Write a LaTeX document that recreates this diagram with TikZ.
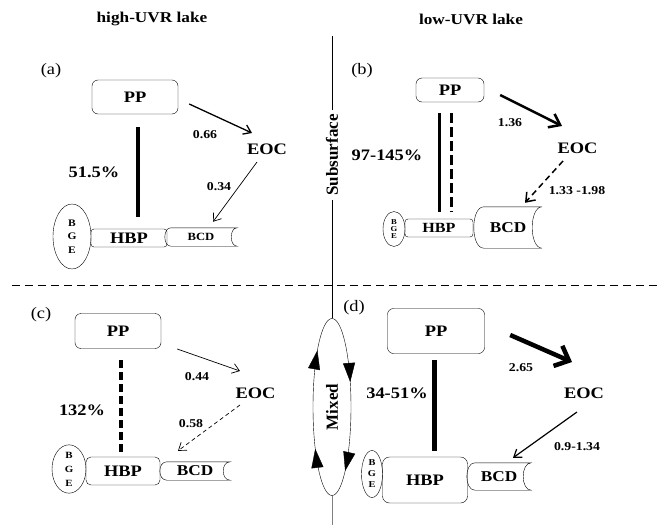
\documentclass[tikz,border=0pt]{standalone}
\usepackage{fontspec}
\setmainfont{Liberation Serif}[FakeStretch=1.15]
\newfontfamily\plainserif{Liberation Serif}
\usepackage{tikz}
\usetikzlibrary{shapes.geometric, arrows.meta, decorations.markings}

\tikzstyle{ppbox} = [rectangle, rounded corners=6pt, draw, inner sep=0pt,
  font=\fontsize{16}{19}\selectfont\bfseries]
\tikzstyle{hbpbox} = [rectangle, rounded corners=4pt, draw, inner sep=0pt]
\tikzstyle{bgeoval} = [ellipse, draw, inner sep=0pt, align=center]
\tikzstyle{bcdtube} = [rectangle, inner sep=0pt]
\tikzstyle{eoclabel} = [inner sep=2pt, font=\fontsize{16}{19}\selectfont\bfseries]
\tikzstyle{ratelabel} = [inner sep=1pt, font=\fontsize{12}{14}\selectfont\bfseries]
\tikzstyle{pctlabel} = [inner sep=1pt, font=\fontsize{16}{19}\selectfont\bfseries]
\tikzstyle{panellabel} = [inner sep=1pt, font=\fontsize{16}{19}\selectfont]
\tikzstyle{sidelabel} = [rotate=90, inner sep=4pt, font=\plainserif\fontsize{17}{20}\selectfont\bfseries]
\tikzstyle{flow} = [-{Straight Barb[length=7pt,width=10pt]}]
\tikzstyle{mixarrows} = [decoration={markings,
    mark=at position 0.172 with {\arrow{Triangle[length=19pt,width=12pt]}},
    mark=at position 0.388 with {\arrow{Triangle[length=19pt,width=12pt]}},
    mark=at position 0.652 with {\arrow{Triangle[length=19pt,width=12pt]}},
    mark=at position 0.933 with {\arrow{Triangle[length=19pt,width=12pt]}}},
  postaction={decorate}]

% tube outline round a BCD node: (name, bulge)
\newcommand{\bcdrim}[2]{%
  \draw (#1.north west) .. controls +({-4/3*#2},0) and +({-4/3*#2},0) .. (#1.south west)
    -- ([xshift=#2pt]#1.south east) .. controls +({-4/3*#2},0) and +({-4/3*#2},0) .. ([xshift=#2pt]#1.north east)
    -- cycle;}

\begin{document}
\begin{tikzpicture}[x=1pt, y=-1pt]
  \useasboundingbox (0,0) rectangle (657,525);

  % column titles
  \node (titleHigh) [font=\fontsize{15}{18}\selectfont\bfseries] at (152,19) {high-UVR lake};
  \node (titleLow)  [font=\fontsize{15}{18}\selectfont\bfseries] at (471,19) {low-UVR lake};

  % dividers
  \coordinate (dashL) at (12,285);
  \coordinate (dashR) at (657,285);
  \draw[dash pattern=on 8pt off 5pt] (dashL) -- (dashR);
  \coordinate (vtop) at (332,36);
  \coordinate (vbot) at (332,525);
  \node (subsurf) [sidelabel] at (332,155) {Subsurface};
  \node (mixloop) [sidelabel, ellipse, inner sep=0pt, minimum width=177pt, minimum height=38pt]
    at (332,407) {Mixed};
  \draw (vtop) -- (subsurf);
  \draw (subsurf) -- (mixloop);
  \draw[gray] (mixloop) -- (vbot);
  \draw[mixarrows] (mixloop.center) ellipse [x radius=19, y radius=88.5];

  % (a) high-UVR, subsurface
  \node (labA) [panellabel] at (51,71) {(a)};
  \node (ppA)  [ppbox, minimum width=86pt, minimum height=34pt] at (135,97) {PP};
  \node (eocA) [eoclabel] at (267,149) {EOC};
  \node (bgeA) [bgeoval, minimum width=38pt, minimum height=65pt,
    font=\fontsize{10}{13.5}\selectfont\bfseries] at (72,236.5) {B\\G\\E};
  \node (hbpA) [hbpbox, rounded corners=3pt, minimum width=76pt, minimum height=18pt,
    font=\fontsize{16}{19}\selectfont\bfseries] at (129,238) {HBP};
  \node (bcdA) [bcdtube, minimum width=60pt, minimum height=18pt,
    font=\fontsize{11}{13}\selectfont\bfseries] at (201,237) {BCD};
  \bcdrim{bcdA}{6}
  \draw[line width=4pt] ([shift={(3,13)}]ppA.south) -- ([shift={(9,-12)}]hbpA.north);
  \node (pctA) [pctlabel] at (94,172) {51.5\%};
  \draw[flow, line width=1.3pt] ([shift={(11,7)}]ppA.east) -- ([shift={(-15,-16)}]eocA.center);
  \node (rateA1) [ratelabel] at (205,135) {0.66};
  \draw[flow, line width=0.7pt] ([shift={(-10,13)}]eocA.center) -- ([shift={(12,-6)}]bcdA.north);
  \node (rateA2) [ratelabel] at (219,187) {0.34};

  % (b) low-UVR, subsurface
  \node (labB) [panellabel] at (362,71) {(b)};
  \node (ppB)  [ppbox, minimum width=68pt, minimum height=24pt] at (450,90) {PP};
  \node (eocB) [eoclabel] at (577.5,148) {EOC};
  \node (bgeB) [bgeoval, minimum width=22pt, minimum height=35pt,
    font=\fontsize{7.5}{7}\selectfont\bfseries] at (394,229) {B\\G\\E};
  \node (hbpB) [hbpbox, rounded corners=3pt, minimum width=68pt, minimum height=18pt,
    font=\fontsize{14}{17}\selectfont\bfseries] at (439,228) {HBP};
  \node (bcdB) [bcdtube, minimum width=48pt, minimum height=41pt,
    font=\fontsize{15}{18}\selectfont\bfseries] at (508,227.5) {BCD};
  \bcdrim{bcdB}{10}
  \draw[line width=3pt] ([shift={(-11,11)}]ppB.south) -- ([shift={(0,-7)}]hbpB.north);
  \draw[line width=3pt, dash pattern=on 10pt off 4pt] ([shift={(1,11)}]ppB.south) -- ([shift={(12,-7)}]hbpB.north);
  \node (pctB) [pctlabel] at (387,155) {97-145\%};
  \draw[-{Straight Barb[length=10pt,width=15pt]}, line width=2.5pt]
    ([shift={(16,5)}]ppB.east) -- ([shift={(-15.5,-22)}]eocB.center);
  \node (rateB1) [ratelabel] at (510,123) {1.36};
  \draw[-{Straight Barb[length=8pt,width=12pt]}, line width=1.5pt, dash pattern=on 6pt off 4pt]
    ([shift={(-14.5,13)}]eocB.center) -- ([shift={(17,-4)}]bcdB.north);
  \node (rateB2) [ratelabel] at (577,191) {1.33 -1.98};

  % (c) high-UVR, mixed
  \node (labC) [panellabel] at (41,315) {(c)};
  \node (ppC)  [ppbox, minimum width=86pt, minimum height=35pt] at (118,331) {PP};
  \node (eocC) [eoclabel] at (255.5,393) {EOC};
  \node (bgeC) [bgeoval, minimum width=34pt, minimum height=48pt,
    font=\fontsize{9.5}{14}\selectfont\bfseries] at (69,469) {B\\G\\E};
  \node (hbpC) [hbpbox, rounded corners=5pt, minimum width=74pt, minimum height=28pt,
    font=\fontsize{16}{19}\selectfont\bfseries] at (123,471) {HBP};
  \node (bcdC) [bcdtube, minimum width=56pt, minimum height=18pt,
    font=\fontsize{15}{18}\selectfont\bfseries] at (195,471) {BCD};
  \bcdrim{bcdC}{7}
  \draw[line width=4pt, dash pattern=on 8pt off 4pt] ([shift={(3,11.5)}]ppC.south) -- ([shift={(-2,-5)}]hbpC.north);
  \node (pctC) [pctlabel] at (82,410) {132\%};
  \draw[flow, line width=0.7pt] ([shift={(16,18)}]ppC.east) -- ([shift={(-15.5,-22)}]eocC.center);
  \node (rateC1) [ratelabel] at (197,377) {0.44};
  \draw[flow, line width=0.7pt, dash pattern=on 4pt off 3pt] ([shift={(-15.5,12)}]eocC.center) -- ([shift={(-17,-11)}]bcdC.north);
  \node (rateC2) [ratelabel] at (191,424) {0.58};

  % (d) low-UVR, mixed
  \node (labD) [panellabel] at (354,308) {(d)};
  \node (ppD)  [ppbox, minimum width=97pt, minimum height=45pt] at (436,331) {PP};
  \node (eocD) [eoclabel] at (584,393) {EOC};
  \node (bgeD) [bgeoval, minimum width=21pt, minimum height=47pt,
    font=\fontsize{9}{11}\selectfont\bfseries] at (372,474) {B\\G\\E};
  \node (hbpD) [hbpbox, rounded corners=7pt, minimum width=85pt, minimum height=46pt,
    font=\fontsize{16}{19}\selectfont\bfseries] at (425,480) {HBP};
  \node (bcdD) [bcdtube, minimum width=48pt, minimum height=27pt,
    font=\fontsize{15}{18}\selectfont\bfseries] at (499,476.5) {BCD};
  \bcdrim{bcdD}{8}
  \draw[line width=5pt] ([shift={(-2,6.5)}]ppD.south) -- ([shift={(9,-6)}]hbpD.north);
  \node (pctD) [pctlabel] at (397,393) {34-51\%};
  \draw[-{Straight Barb[length=12pt,width=22pt]}, line width=4.5pt]
    ([shift={(25.5,4)}]ppD.east) -- ([shift={(-12,-31)}]eocD.center);
  \node (rateD1) [ratelabel] at (521,368) {2.65};
  \draw[flow, line width=1.2pt] ([shift={(-7,19)}]eocD.center) -- ([shift={(14,-5)}]bcdD.north);
  \node (rateD2) [ratelabel] at (577,447) {0.9-1.34};
\end{tikzpicture}
\end{document}
